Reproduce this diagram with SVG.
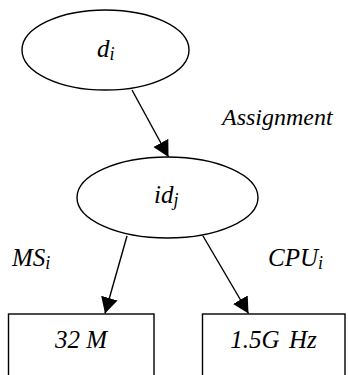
<svg xmlns="http://www.w3.org/2000/svg" width="348" height="375" viewBox="0 0 348 375">
<style>
.shape{fill:#fff;stroke:#000;stroke-width:1.4}
.edge{fill:none;stroke:#000;stroke-width:1.4}
.t{font-family:"Liberation Serif",serif;font-style:italic;fill:#000}
.lbl{font-size:25px}
.sub{font-size:18px}
</style>
<defs>
<marker id="arr" markerUnits="userSpaceOnUse" markerWidth="18" markerHeight="18" refX="16" refY="8.5" orient="auto">
<path d="M0,0 L16,8.5 L0,17 z" fill="#000"/>
</marker>
</defs>
<g id="connectors">
<line class="edge" x1="132" y1="90" x2="168.5" y2="157" marker-end="url(#arr)"/>
<line class="edge" x1="127" y1="236" x2="105" y2="313.5" marker-end="url(#arr)"/>
<line class="edge" x1="203" y1="236" x2="248.5" y2="313.5" marker-end="url(#arr)"/>
</g>
<g id="node-di">
<ellipse class="shape" cx="105.5" cy="50" rx="83.5" ry="40"/>
<text class="t lbl" x="97" y="57">d<tspan class="sub" dy="3">i</tspan></text>
</g>
<g id="node-idj">
<ellipse class="shape" cx="167.5" cy="197.5" rx="90.5" ry="40.5"/>
<text class="t lbl" x="154" y="203">id<tspan class="sub" dy="3">j</tspan></text>
</g>
<g id="node-mem">
<rect class="shape" x="8.5" y="314" width="145.5" height="100"/>
<text class="t lbl" x="81" y="348" text-anchor="middle">32 M</text>
</g>
<g id="node-cpu">
<rect class="shape" x="202.5" y="314" width="142.5" height="100"/>
<text class="t lbl" x="273.5" y="348" text-anchor="middle" word-spacing="3">1.5G Hz</text>
</g>
<g id="labels">
<text class="t lbl" x="222" y="125" font-size="24" style="font-size:24px">Assignment</text>
<text class="t lbl" x="12" y="266">MS<tspan class="sub" dy="3">i</tspan></text>
<text class="t lbl" x="268" y="266">CPU<tspan class="sub" dy="3">i</tspan></text>
</g>
</svg>
